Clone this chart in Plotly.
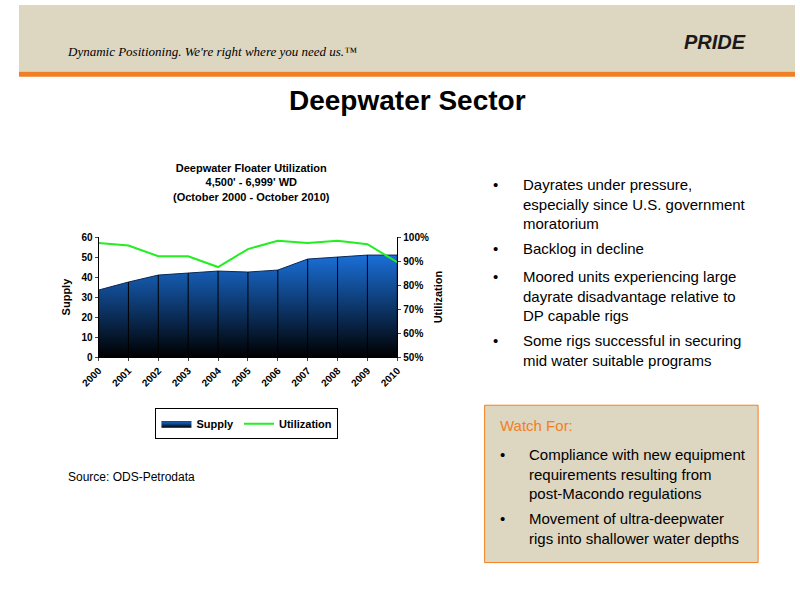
import plotly.graph_objects as go

years = ["2000","2001","2002","2003","2004","2005","2006","2007","2008","2009","2010"]
supply = [33.5, 37.5, 41, 42, 43, 42.5, 43.5, 49, 50, 51, 51]
utilization = [97.5, 96.5, 92, 92, 87.5, 95, 98.5, 97.5, 98.5, 97, 89.5]

W, H = 800, 600
def px(x): return x / W
def py(y): return 1 - y / H

fig = go.Figure()
fig.add_trace(go.Scatter(x=years, y=supply, name="Supply", mode="lines", fill="tozeroy",
    line=dict(color="#0d2a55", width=1),
    fillgradient=dict(type="vertical", colorscale=[[0, "#000000"], [1, "#1a6fd8"]]),
    fillcolor="#1560c0"))
vx, vy = [], []
for yr, s in zip(years, supply):
    vx += [yr, yr, None]; vy += [0, s, None]
fig.add_trace(go.Scatter(x=vx, y=vy, mode="lines", line=dict(color="black", width=1),
                         showlegend=False, hoverinfo="skip"))
fig.add_trace(go.Scatter(x=years, y=utilization, name="Utilization", mode="lines",
    line=dict(color="#22ee22", width=2), yaxis="y2"))

F = "Arial, Liberation Sans"
fig.update_layout(
    autosize=True, margin=dict(l=0, r=0, t=0, b=0),
    paper_bgcolor="white", plot_bgcolor="white", showlegend=True,
    font=dict(family=F, color="black"),
    xaxis=dict(domain=[px(82), px(390)], range=[0, 10], showgrid=False, tickangle=-45,
               tickfont=dict(size=10, family=F, weight="bold"), showline=True,
               linecolor="black", ticks="outside", ticklen=3),
    yaxis=dict(domain=[py(358), py(236)], range=[0, 60], dtick=10, showgrid=False,
               showline=True, linecolor="black", ticks="outside", ticklen=3,
               tickfont=dict(size=10, weight="bold"),
               title=dict(text="Supply", font=dict(size=11, weight="bold"), standoff=8)),
    yaxis2=dict(overlaying="y", side="right", range=[50, 100], dtick=10, ticksuffix="%",
                showgrid=False, showline=True, linecolor="black", ticks="outside", ticklen=3,
                tickfont=dict(size=10, weight="bold"),
                title=dict(text="Utilization", font=dict(size=11, weight="bold"), standoff=6)),
    legend=dict(orientation="h", x=px(235), y=py(410), xanchor="center", yanchor="top",
                bordercolor="black", borderwidth=1, font=dict(size=11, weight="bold"),
                bgcolor="white", itemwidth=30, tracegroupgap=0),
)

shapes = [
    dict(type="rect", xref="paper", yref="paper", x0=0, x1=1, y0=py(68), y1=1,
         fillcolor="#ddd6c1", line_width=0, layer="below"),
    dict(type="rect", xref="paper", yref="paper", x0=0, x1=1, y0=py(73), y1=py(68),
         fillcolor="#f08024", line_width=0),
    dict(type="rect", xref="paper", yref="paper", x0=px(480), x1=px(762), y0=py(567), y1=py(407),
         fillcolor="#ddd6c1", line=dict(color="#f08024", width=1), layer="below"),
]
fig.update_layout(shapes=shapes)

def txt(x, y, s, size, xa="left", ya="middle", color="black", fam=F, align="left"):
    fig.add_annotation(xref="paper", yref="paper", x=px(x), y=py(y), text=s, showarrow=False,
                       xanchor=xa, yanchor=ya, align=align, font=dict(size=size, color=color, family=fam))

txt(47, 47, "<i>Dynamic Positioning. We're right where you need us.™</i>", 13, fam="Liberation Serif, DejaVu Serif")
txt(752, 38, "<b><i>PRIDE</i></b>", 20, xa="right", color="#1a1a1a")
txt(400, 97, "<b>Deepwater Sector</b>", 28, xa="center")
txt(240, 181, "<b>Deepwater Floater Utilization<br>4,500' - 6,999' WD<br>(October 2000 - October 2010)</b>",
    11, xa="center", align="center")
txt(48, 480, "Source: ODS-Petrodata", 12)

bul = [(172, "Dayrates under pressure,<br>especially since U.S. government<br>moratorium"),
       (237, "Backlog in decline"),
       (265, "Moored units experiencing large<br>dayrate disadvantage relative to<br>DP capable rigs"),
       (331, "Some rigs successful in securing<br>mid water suitable programs")]
for y, s in bul:
    txt(487, y, "•", 15, ya="top")
    txt(518, y, s, 15, ya="top")
txt(494, 428, "Watch For:", 15, color="#f08024")
for y, s in [(446, "Compliance with new equipment<br>requirements resulting from<br>post-Macondo regulations"),
             (512, "Movement of ultra-deepwater<br>rigs into shallower water depths")]:
    txt(494, y, "•", 15, ya="top")
    txt(524, y, s, 15, ya="top")

fig.write_html("out.html", default_width="100vw", default_height="100vh",
               config={"displayModeBar": False, "responsive": True})
with open("out.html", encoding="utf-8") as f:
    html = f.read()
html = html.replace("<head>", "<head><style>html,body{margin:0;padding:0;overflow:hidden}</style>", 1)
with open("out.html", "w", encoding="utf-8") as f:
    f.write(html)
